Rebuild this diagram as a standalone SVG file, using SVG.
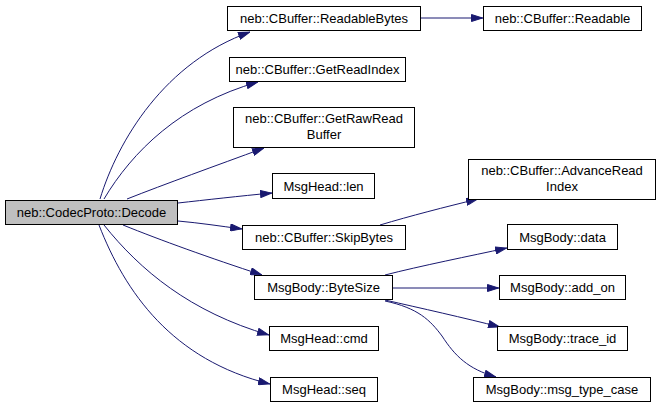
<svg xmlns="http://www.w3.org/2000/svg" width="661" height="408" viewBox="0 0 661 408">
<defs>
<marker id="ah" viewBox="0 0 12 8" refX="12" refY="4" markerWidth="12" markerHeight="8" markerUnits="userSpaceOnUse" orient="auto">
<path d="M0.5,0.5 L11.5,4 L0.5,7.5 Z" fill="#191970" stroke="#191970"/>
</marker>
</defs>
<style>
.n rect{fill:#ffffff;stroke:#000000;stroke-width:1}
.n.root rect{fill:#bfbfbf}
.n text{font-family:"Liberation Sans",Arial,sans-serif;font-size:13px;fill:#000000;text-anchor:middle}
.e path{fill:none;stroke:#191970;stroke-width:1;marker-end:url(#ah)}
</style>
<rect width="661" height="408" fill="#ffffff"/>
<g id="edges" class="e">
<path d="M100,199 C118,140 165,62 250,32"/>
<path d="M104,199 C132,152 180,104 258,82"/>
<path d="M127,199 C165,184 215,166 264,148"/>
<path d="M178,203 C205,200 240,196 272,193"/>
<path d="M178,221 C200,223 220,226 242,229"/>
<path d="M123,225 C160,240 210,258 262,275"/>
<path d="M104,225 C140,270 190,312 269,335"/>
<path d="M99,225 C125,292 172,360 270,384"/>
<path d="M421,18 L483,18"/>
<path d="M380,225 C410,216 445,207 478,199"/>
<path d="M385,275 C420,266 470,256 507,248"/>
<path d="M393,288 L499,288"/>
<path d="M385,300 C420,308 465,318 500,327"/>
<path d="M385,301 C418,308 430,320 442,336 C455,356 468,369 496,377"/>
</g>
<g id="node-decode" class="n root"><rect x="5.5" y="200.5" width="172" height="24"/><text x="91.5" y="216.5">neb::CodecProto::Decode</text></g>
<g id="node-readablebytes" class="n"><rect x="227.5" y="6.5" width="193" height="24"/><text x="324" y="23">neb::CBuffer::ReadableBytes</text></g>
<g id="node-readable" class="n"><rect x="483.5" y="6.5" width="158" height="24"/><text x="562.5" y="23">neb::CBuffer::Readable</text></g>
<g id="node-getreadindex" class="n"><rect x="229.5" y="57.5" width="176" height="24"/><text x="317.5" y="74">neb::CBuffer::GetReadIndex</text></g>
<g id="node-getrawreadbuffer" class="n"><rect x="233.5" y="107.5" width="181" height="40"/><text x="324" y="123">neb::CBuffer::GetRawRead</text><text x="324" y="139">Buffer</text></g>
<g id="node-advancereadindex" class="n"><rect x="468.5" y="159.5" width="187" height="40"/><text x="562" y="175">neb::CBuffer::AdvanceRead</text><text x="562" y="191">Index</text></g>
<g id="node-len" class="n"><rect x="272.5" y="173.5" width="102" height="25"/><text x="323.5" y="191">MsgHead::len</text></g>
<g id="node-skipbytes" class="n"><rect x="242.5" y="225.5" width="163" height="24"/><text x="324" y="242">neb::CBuffer::SkipBytes</text></g>
<g id="node-bytesize" class="n"><rect x="254.5" y="275.5" width="138" height="24"/><text x="323.5" y="292">MsgBody::ByteSize</text></g>
<g id="node-cmd" class="n"><rect x="269.5" y="326.5" width="109" height="24"/><text x="324" y="343">MsgHead::cmd</text></g>
<g id="node-seq" class="n"><rect x="270.5" y="377.5" width="107" height="24"/><text x="324" y="394">MsgHead::seq</text></g>
<g id="node-data" class="n"><rect x="507.5" y="224.5" width="110" height="25"/><text x="562.5" y="242">MsgBody::data</text></g>
<g id="node-addon" class="n"><rect x="499.5" y="275.5" width="126" height="24"/><text x="562.5" y="292">MsgBody::add_on</text></g>
<g id="node-traceid" class="n"><rect x="497.5" y="326.5" width="130" height="24"/><text x="562.5" y="343">MsgBody::trace_id</text></g>
<g id="node-msgtypecase" class="n"><rect x="473.5" y="377.5" width="177" height="24"/><text x="562" y="394">MsgBody::msg_type_case</text></g>
</svg>
